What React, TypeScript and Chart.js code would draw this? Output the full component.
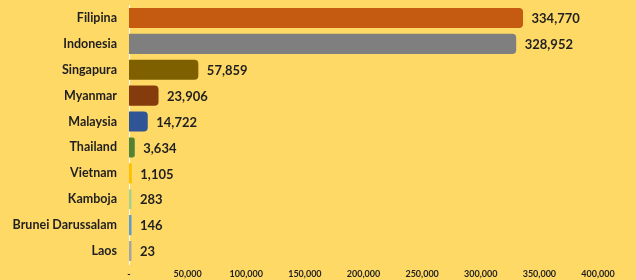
import React, { useEffect, useRef } from "react";
import { Chart, registerables } from "chart.js";

Chart.register(...registerables);

const categories = [
  "Filipina",
  "Indonesia",
  "Singapura",
  "Myanmar",
  "Malaysia",
  "Thailand",
  "Vietnam",
  "Kamboja",
  "Brunei Darussalam",
  "Laos",
];
const values = [334770, 328952, 57859, 23906, 14722, 3634, 1105, 283, 146, 23];
const barColors = [
  "#C55A11",
  "#7F7F7F",
  "#7F6000",
  "#843C0C",
  "#2F5597",
  "#548235",
  "#FFC000",
  "#A9D18E",
  "#5B9BD5",
  "#A5A5A5",
];
const xTicks = [0, 50000, 100000, 150000, 200000, 250000, 300000, 350000, 400000];

const fmt = (v: number) => v.toLocaleString("en-US");
const FONT = "Lato, 'Noto Sans', sans-serif";
const TEXT = "#1f1f1f";

const valueLabels = {
  id: "valueLabels",
  afterDatasetsDraw(chart: any) {
    const ctx = chart.ctx;
    const meta = chart.getDatasetMeta(0);
    ctx.save();
    ctx.font = `bold 13px ${FONT}`;
    ctx.fillStyle = TEXT;
    ctx.textAlign = "left";
    ctx.textBaseline = "middle";
    meta.data.forEach((el: any, i: number) => {
      ctx.fillText(fmt(values[i]), el.x + 10, el.y + 1);
    });
    ctx.restore();
  },
};

export default function App() {
  const ref = useRef<HTMLCanvasElement>(null);
  useEffect(() => {
    if (!ref.current) return;
    const chart = new Chart(ref.current, {
      type: "bar",
      data: {
        labels: categories,
        datasets: [
          {
            data: values,
            backgroundColor: barColors,
            borderColor: barColors,
            borderWidth: 0,
            borderRadius: 4,
            borderSkipped: "start",
            minBarLength: 1,
            inflateAmount: 1.5,
            barPercentage: 0.66,
            categoryPercentage: 1,
          },
        ],
      },
      options: {
        indexAxis: "y",
        animation: false,
        responsive: false,
        maintainAspectRatio: false,
        layout: { padding: { left: 0, right: 38, top: 5, bottom: 0 } },
        plugins: {
          legend: { display: false },
          tooltip: { enabled: false },
        },
        scales: {
          y: {
            z: 1,
            afterFit: (s: any) => {
              s.width = 129;
              s.paddingTop = 0;
              s.paddingBottom = 0;
            },
            grid: { display: false, drawTicks: false },
            border: { display: true, color: "#FFFFFF", width: 1 },
            ticks: {
              padding: 12,
              color: TEXT,
              font: { family: FONT, size: 12.5, weight: "bold" },
            },
          },
          x: {
            min: 0,
            max: 400000,
            afterFit: (s: any) => {
              s.height = 16;
              s.paddingLeft = 0;
              s.paddingRight = 0;
            },
            afterBuildTicks: (s: any) => {
              s.ticks = xTicks.map((v) => ({ value: v }));
            },
            grid: { display: false, drawTicks: false },
            border: { display: false },
            ticks: {
              padding: 5,
              maxRotation: 0,
              autoSkip: false,
              color: TEXT,
              font: { family: FONT, size: 9, weight: "bold" },
              callback: (v: any) => (Number(v) === 0 ? "-" : fmt(Number(v))),
            },
          },
        },
      },
      plugins: [valueLabels],
    });
    return () => chart.destroy();
  }, []);
  return (
    <div
      style={{
        position: "fixed",
        left: 0,
        top: 0,
        width: 636,
        height: 280,
        background: "#FFD966",
      }}
    >
      <canvas ref={ref} width={636} height={280} style={{ display: "block" }} />
    </div>
  );
}
